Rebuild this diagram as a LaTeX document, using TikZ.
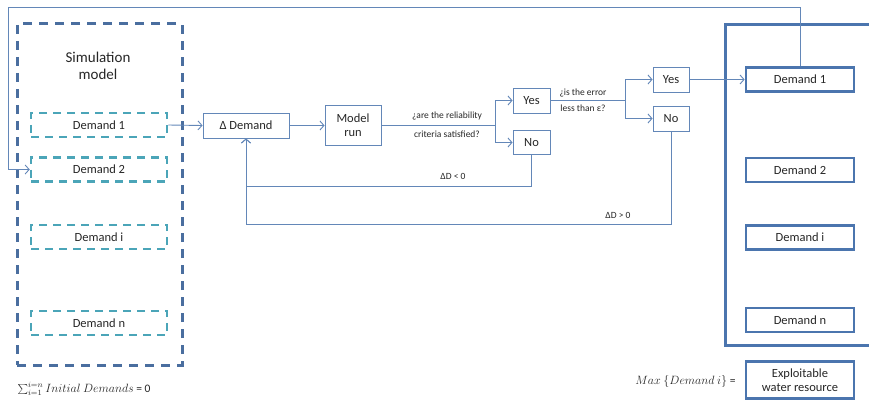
\documentclass[tikz,border=0pt]{standalone}
\usepackage{fontspec}
\setmainfont{Carlito}
\usetikzlibrary{arrows.meta}
\definecolor{outerblue}{HTML}{4A6E9F}
\definecolor{dteal}{HTML}{4BA5B8}
\definecolor{lineblue}{HTML}{6387B8}
\definecolor{thickblue}{HTML}{4B75AE}
\definecolor{txt}{HTML}{262626}
\begin{document}
\begin{tikzpicture}[x=1pt,y=-1pt,
  every node/.style={text=txt},
  fs/.style={font=\fontsize{12.5}{14}\selectfont},
  sm/.style={font=\fontsize{9.5}{11}\selectfont},
  simbox/.style={draw=outerblue,line width=3pt,dash pattern=on 9pt off 7pt,minimum width=165pt,minimum height=341pt,inner sep=0pt},
  dbox/.style={draw=dteal,line width=2.5pt,dash pattern=on 8pt off 6pt,minimum width=136pt,minimum height=24pt,inner sep=0pt,fs},
  tbox/.style={draw=lineblue,line width=0.9pt,inner sep=0pt,fs,align=center},
  rbox/.style={draw=thickblue,line width=2.8pt,minimum width=108pt,minimum height=24pt,inner sep=0pt,fs,align=center},
  conn/.style={draw=lineblue,line width=0.9pt},
  arr/.style={conn,-{Straight Barb[length=4pt,width=9pt]}}
]
\useasboundingbox (0,0) rectangle (869,401);
% left simulation model
\node[simbox] (sim) at (99.5,194.5) {};
\node[align=center,font=\fontsize{15}{17}\selectfont] (simt) at (98,65.5) {Simulation\\model};
\node[dbox] (sd1) at (99,125) {Demand 1};
\node[dbox] (sd2) at (99,169.5) {Demand 2};
\node[dbox] (sdi) at (99,237) {Demand i};
\node[dbox] (sdn) at (99,323) {Demand n};
\node[anchor=west,font=\fontsize{11.5}{13}\selectfont] (sum) at (14,389) {$\sum\nolimits_{i=1}^{i=n} Initial\ Demands$ = 0};
% process
\node[tbox,minimum width=86pt,minimum height=25pt] (delta) at (246,125.5) {Δ Demand};
\node[tbox,minimum width=56pt,minimum height=40pt] (model) at (353,125.5) {Model\\run};
\node[tbox,minimum width=37pt,minimum height=25pt] (yes1) at (531.5,100.5) {Yes};
\node[tbox,minimum width=37pt,minimum height=24pt] (no1) at (531.5,142.5) {No};
\node[tbox,minimum width=36pt,minimum height=25pt] (yes2) at (671,79.5) {Yes};
\node[tbox,minimum width=36pt,minimum height=25pt] (no2) at (671,118.5) {No};
% right side (box open to the right, cut by the page edge)
\draw[draw=thickblue,line width=3pt] (885,25) -- (725,25) -- (725,345) -- (885,345);
\node[rbox] (rd1) at (800,79.5) {Demand 1};
\node[rbox] (rd2) at (800,170) {Demand 2};
\node[rbox] (rdi) at (800,237.5) {Demand i};
\node[rbox] (rdn) at (800,320) {Demand n};
\node[rbox,minimum height=37pt] (expl) at (800,380) {Exploitable\\water resource};
\node[anchor=east,font=\fontsize{11.5}{13}\selectfont] (maxt) at (739,381) {$Max\ \{Demand\ i\}$ =};
% coordinates
\coordinate (b1) at (495,125.5);
\coordinate (b2) at (625,100.5);
\coordinate (c1) at (800,7);
\coordinate (c2) at (8,7);
\coordinate (c3) at (8,169.5);
\coordinate (f1) at (246,186);
\coordinate (f2) at (246,224);
% connectors
\draw[arr] (sd1.east) -- (delta.west);
\draw[arr] (delta.east) -- (model.west);
\draw[conn] (model.east) -- (b1);
\draw[arr] (b1) |- (yes1.west);
\draw[arr] (b1) |- (no1.west);
\draw[conn] (yes1.east) -- (b2);
\draw[arr] (b2) |- (yes2.west);
\draw[arr] (b2) |- (no2.west);
\draw[arr] (yes2.east) -- (rd1.west);
\draw[arr] (rd1.north) -- (c1) -- (c2) -- (c3) -- (sd2.west);
\draw[arr] (no2.south) |- (f2) -- (delta.south);
\draw[arr] (no1.south) |- (f1) -- (delta.south);
% labels
\node[sm,anchor=south] (q1a) at (447,124) {¿are the reliability};
\node[sm,anchor=north] (q1b) at (447,127) {criteria satisfied?};
\node[sm,anchor=south] (q2a) at (583,101) {¿is the error};
\node[sm,anchor=north] (q2b) at (583,101.5) {less than ε?};
\node[sm] (l1) at (453,176) {ΔD < 0};
\node[sm] (l2) at (618,215) {ΔD > 0};
\end{tikzpicture}
\end{document}
